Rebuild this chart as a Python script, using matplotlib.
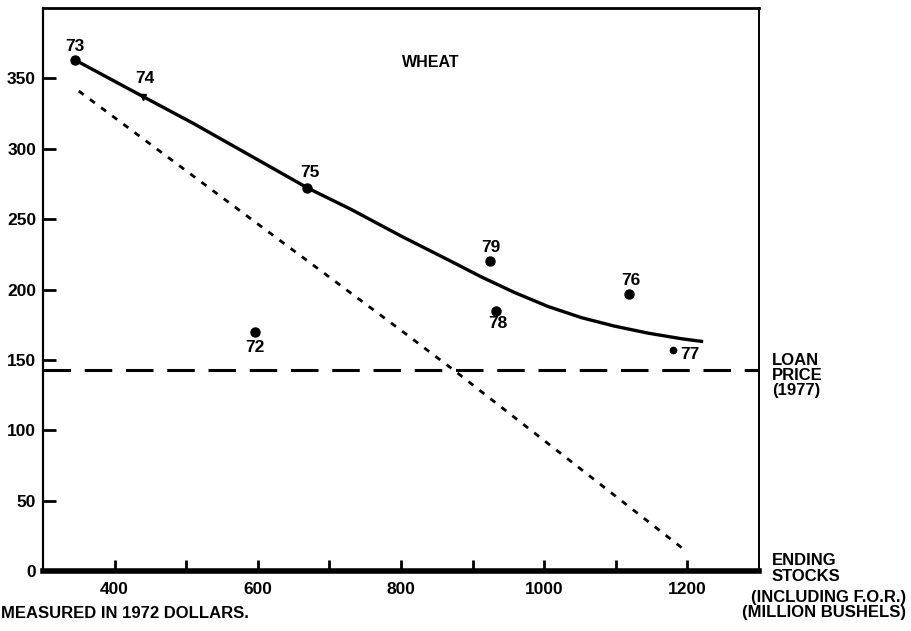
import matplotlib.pyplot as plt

plt.rcParams['font.family'] = ['Liberation Sans', 'DejaVu Sans']
plt.rcParams['font.weight'] = 'bold'

# wheat data
curve_x = [345, 440, 510, 604, 670, 730, 800, 870, 912, 958, 1005, 1052, 1098, 1145, 1192, 1222]
curve_y = [363, 337, 318, 291, 272, 257, 238, 220, 209, 198, 188, 180, 174, 169, 165, 163]

dotted_x = [350, 800, 873, 1196]
dotted_y = [341, 171, 143, 15]

loan_price = 143

years = ['73', '74', '75', '79', '78', '76', '77', '72']
year_x = [345, 440, 669, 924, 933, 1119, 1180, 596]
year_y = [363, 337, 272, 220, 185, 197, 157, 170]
# label offsets in points
label_dx = [0, 1.5, 2, 1, 1.5, 1, 12, 0]
label_dy = [10, 13, 11.5, 10, -9.5, 9.5, -3.5, -11]

fig = plt.figure(figsize=(9.12, 6.31), dpi=100)
ax = fig.add_axes([43 / 912, 1 - 571 / 631, (759 - 43) / 912, (571 - 8) / 631])

ax.plot(curve_x, curve_y, color='black', lw=2.4, solid_capstyle='butt', solid_joinstyle='round')
ax.plot(dotted_x, dotted_y, color='black', lw=2.0, linestyle=(0, (2.2, 2.8)))
ax.axhline(loan_price, color='black', lw=2.2, linestyle=(0, (9, 4.5)))

for i, lbl in enumerate(years):
    if lbl == '74':
        ax.plot(year_x[i], year_y[i], marker='v', ms=4, color='black')
    elif lbl == '77':
        ax.plot(year_x[i], year_y[i], 'o', ms=4.5, color='black')
    else:
        ax.plot(year_x[i], year_y[i], 'o', ms=6.5, color='black')
    ax.annotate(lbl, (year_x[i], year_y[i]), xytext=(label_dx[i], label_dy[i]),
                textcoords='offset points', ha='center', va='center',
                fontsize=12.5, fontweight='bold')

ax.text(842, 361, 'WHEAT', ha='center', va='center', fontsize=11.5, fontweight='bold')

ax.set_xlim(300, 1300)
ax.set_ylim(0, 400)
ax.set_xticks([400, 600, 800, 1000, 1200])
ax.set_xticks([500, 700, 900, 1100], minor=True)
ax.set_yticks([0, 50, 100, 150, 200, 250, 300, 350])
ax.tick_params(axis='x', which='both', direction='in', length=8, width=2, pad=8, labelsize=12.5)
ax.tick_params(axis='y', direction='in', length=9, width=2, pad=5, labelsize=12.5)
for lab in ax.get_xticklabels() + ax.get_yticklabels():
    lab.set_fontweight('bold')

ax.spines['left'].set_linewidth(1.6)
ax.spines['top'].set_linewidth(2.0)
ax.spines['right'].set_linewidth(1.4)
ax.spines['bottom'].set_linewidth(4)

fig.text(772 / 912, 1 - 353 / 631, 'LOAN\nPRICE\n(1977)', ha='left', va='top',
         fontsize=12, fontweight='bold', linespacing=0.98)
fig.text(772 / 912, 1 - 553 / 631, 'ENDING\nSTOCKS', ha='left', va='top',
         fontsize=12, fontweight='bold', linespacing=1.05)
fig.text(906 / 912, 1 - 590 / 631, '(INCLUDING F.O.R.)\n(MILLION BUSHELS)', ha='right', va='top',
         fontsize=12, fontweight='bold', linespacing=1.0)
fig.text(1 / 912, 1 - 614 / 631, 'MEASURED IN 1972 DOLLARS.', ha='left', va='center',
         fontsize=12, fontweight='bold')

fig.savefig('out.png', dpi=100)
